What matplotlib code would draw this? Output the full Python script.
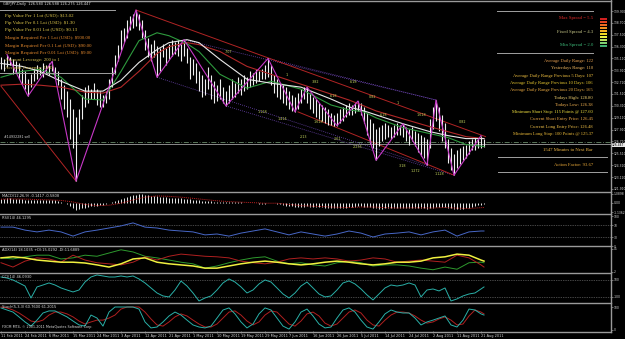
"""GBPJPY daily chart with MT4 style indicator panels."""

import matplotlib
matplotlib.use("Agg")
import matplotlib.pyplot as plt  # noqa: E402
from matplotlib.patches import Rectangle  # noqa: E402

W, H = 625, 339
BG = "#000000"
FRAME = "#9a9a9a"
AXTXT = "#d8d8d8"

# ---- price bars (one per daily bar, Sunday bars included) ----
highs = [135.2, 135.0, 135.5, 135.2, 135.0, 134.8, 134.6, 134.0, 133.8, 133.0,
         133.5, 134.0, 134.4, 134.2, 134.6, 134.4, 134.6, 134.8, 134.2, 133.8,
         133.0, 132.4, 131.8, 131.0, 130.0, 129.2, 130.0, 131.4, 132.2, 132.4,
         132.0, 132.6, 132.0, 131.8, 131.4, 131.8, 133.0, 134.2, 135.5, 136.5,
         138.0, 138.2, 139.0, 139.4, 139.6, 140.0, 139.6, 139.0, 138.0, 137.2,
         136.6, 137.0, 136.4, 136.2, 136.6, 136.2, 136.6, 137.0, 136.8, 137.0,
         136.6, 137.0, 136.2, 135.2, 135.0, 134.6, 133.8, 133.4, 133.0, 134.2,
         133.4, 132.8, 132.4, 133.0, 132.2, 131.8, 132.4, 133.0, 132.6, 133.2,
         133.0, 133.4, 133.2, 133.8, 133.6, 134.0, 133.8, 134.0, 134.4, 135.1,
         134.4, 133.4, 133.0, 132.6, 132.4, 132.2, 131.8, 131.4, 131.2, 131.6,
         132.0, 132.2, 132.2, 131.6, 131.2, 131.0, 130.6, 130.4, 130.2, 130.0,
         129.6, 129.4, 129.6, 130.0, 130.2, 130.4, 130.6, 130.4, 130.6, 130.8,
         130.6, 130.2, 129.6, 129.0, 128.6, 128.0, 128.2, 128.4, 128.6, 128.4,
         128.2, 128.4, 128.6, 128.4, 128.5, 128.2, 128.0, 128.2, 127.8, 127.6,
         127.4, 127.2, 127.0, 129.0, 130.2, 130.9, 130.2, 129.4, 128.6, 127.0,
         126.0, 125.4, 125.8, 126.0, 126.2, 126.4, 126.8, 127.0, 127.2, 127.0,
         127.3, 127.0]
lows = [134.0, 133.8, 134.2, 134.4, 133.5, 133.6, 133.0, 132.5, 132.0, 131.3,
        132.2, 132.8, 133.0, 133.4, 133.2, 133.6, 133.4, 133.8, 133.0, 132.4,
        131.0, 130.0, 129.2, 127.0, 126.0, 122.7, 127.5, 129.0, 130.2, 130.6,
        131.0, 131.0, 130.4, 130.2, 130.2, 130.6, 131.0, 132.2, 133.5, 134.8,
        136.0, 136.8, 137.2, 138.0, 138.2, 138.4, 138.0, 137.2, 136.0, 135.2,
        134.8, 135.2, 133.2, 133.8, 135.2, 134.4, 135.0, 135.4, 135.6, 135.4,
        134.8, 135.4, 134.6, 133.0, 133.4, 132.6, 131.8, 131.2, 131.4, 132.0,
        131.0, 130.6, 130.8, 131.0, 130.6, 130.3, 130.6, 131.0, 131.2, 131.6,
        131.4, 131.8, 132.0, 132.2, 132.4, 132.6, 132.8, 133.0, 133.0, 133.2,
        132.4, 131.6, 131.2, 131.0, 130.6, 130.4, 130.0, 129.8, 129.7, 130.0,
        130.6, 131.0, 130.6, 130.0, 129.6, 129.2, 129.0, 128.8, 128.6, 128.4,
        128.4, 128.3, 128.3, 128.6, 128.8, 129.2, 129.4, 129.4, 129.6, 129.8,
        129.4, 128.6, 127.4, 126.5, 126.0, 124.8, 126.2, 126.8, 127.0, 127.2,
        127.0, 127.2, 127.4, 127.4, 127.2, 126.8, 126.4, 126.8, 126.2, 125.6,
        125.2, 125.0, 124.3, 126.0, 128.0, 128.8, 127.8, 126.8, 126.0, 124.5,
        123.8, 123.3, 124.0, 124.4, 124.8, 125.0, 125.4, 125.8, 125.8, 126.0,
        126.0, 126.1]

# moving averages, read every few bars
ma_x = [0, 7, 13, 20, 28, 34, 40, 46, 52, 56, 62, 66, 73, 82, 90, 100, 110,
        116, 121, 125, 134, 143, 149, 155, 161]
ma_white = [134.6, 134.3, 133.8, 132.8, 131.8, 131.8, 132.9, 134.7, 136.0, 136.7,
            137.0, 136.7, 135.0, 133.0, 132.6, 132.2, 131.0, 130.2, 129.8, 129.4,
            128.5, 127.7, 127.3, 127.0, 127.0]
ma_green = [133.2, 133.8, 134.0, 133.2, 131.0, 130.9, 133.8, 136.9, 137.7, 137.4,
            136.6, 135.8, 133.5, 132.1, 132.8, 132.0, 130.4, 129.9, 129.7, 129.1,
            128.1, 127.5, 127.1, 126.4, 126.2]
ma_red = [132.4, 132.5, 132.4, 132.2, 131.7, 131.6, 132.2, 133.8, 135.6, 136.3,
          136.7, 136.5, 135.8, 134.3, 133.5, 132.5, 131.5, 130.9, 130.3, 129.8,
          129.0, 128.2, 127.7, 127.2, 127.0]

# zigzag swing points
zz_x = [2, 9, 17, 25, 45, 52, 61, 75, 89, 98, 102, 112, 119, 125, 134, 142, 145, 151, 160]
zz_y = [135.5, 131.3, 134.8, 122.7, 140.0, 133.2, 137.0, 130.3, 135.1, 129.7,
        132.2, 128.3, 130.8, 124.8, 128.5, 124.3, 130.9, 123.3, 127.3]

# drawn trend lines (bar index, price)
red_lines_x = [[45, 161.5], [0, 25], [99, 151]]
red_lines_y = [[140.0, 127.2], [132.3, 122.7], [129.7, 123.3]]
dot_lines_x = [[61, 145], [89, 145], [75, 151], [52, 142]]
dot_lines_y = [[137.0, 130.9], [135.1, 130.9], [130.3, 123.3], [133.2, 124.3]]

fib_x = [75.7, 95.3, 104.7, 110.7, 117.3, 123.7, 132.3, 127.3, 140.3, 87.0,
         93.7, 105.7, 100.7, 112.3, 118.7, 134.0, 138.0, 146.3, 153.7]
fib_y = [135.75, 133.43, 132.72, 131.31, 132.72, 131.21, 130.60, 129.39, 129.39,
         129.69, 128.98, 128.68, 127.16, 126.96, 126.15, 124.23, 123.73, 123.42, 128.68]
fib_txt = [".707", "1", ".382", ".618", ".618", "0.82", "1", ".618", "1.618", "1.128",
           "1.414", "1.618", "2.13", "2.61", "2.236", "3.18", "1.272", "1.128", "0.82"]

bid = 126.447
order_price = 126.70
price_ticks = [139.900, 138.700, 137.500, 136.300, 135.110, 133.910, 132.710, 131.510,
               130.310, 129.110, 127.910, 126.710, 125.510, 124.310, 123.110, 121.910]

date_pos = [0, 8, 16, 24, 32, 40, 48, 56, 64, 72, 80, 88, 96, 104, 112, 120, 128,
            136, 144, 152, 160]
date_labels = ["11 Feb 2011", "24 Feb 2011", "6 Mar 2011", "15 Mar 2011", "24 Mar 2011",
               "3 Apr 2011", "12 Apr 2011", "21 Apr 2011", "1 May 2011", "10 May 2011",
               "19 May 2011", "29 May 2011", "7 Jun 2011", "16 Jun 2011", "26 Jun 2011",
               "5 Jul 2011", "14 Jul 2011", "24 Jul 2011", "2 Aug 2011", "11 Aug 2011",
               "21 Aug 2011"]

# ---- MACD ----
macd_hist = [0.50, 0.52, 0.55, 0.55, 0.52, 0.50, 0.48, 0.45, 0.40, 0.35,
             0.33, 0.33, 0.35, 0.35, 0.36, 0.36, 0.35, 0.34, 0.30, 0.22,
             0.10, -0.05, -0.20, -0.40, -0.60, -0.85, -0.80, -0.70, -0.60, -0.52,
             -0.45, -0.40, -0.35, -0.30, -0.25, -0.18, -0.08, 0.05, 0.20, 0.35,
             0.50, 0.62, 0.75, 0.85, 0.95, 1.02, 1.05, 1.05, 1.00, 0.95,
             0.90, 0.85, 0.80, 0.75, 0.72, 0.68, 0.65, 0.62, 0.60, 0.58,
             0.55, 0.52, 0.48, 0.44, 0.40, 0.36, 0.32, 0.28, 0.24, 0.20,
             0.18, 0.15, 0.12, 0.10, 0.08, 0.06, 0.05, 0.04, 0.05, 0.06,
             0.05, 0.02, 0.0, -0.02, -0.05, -0.08, -0.10, -0.12, -0.10, -0.05,
             0.00, -0.05, -0.12, -0.20, -0.28, -0.34, -0.40, -0.45, -0.48, -0.50,
             -0.48, -0.46, -0.45, -0.46, -0.48, -0.50, -0.52, -0.55, -0.58, -0.60,
             -0.62, -0.64, -0.65, -0.64, -0.62, -0.58, -0.55, -0.52, -0.48, -0.45,
             -0.44, -0.46, -0.50, -0.56, -0.62, -0.70, -0.72, -0.72, -0.70, -0.68,
             -0.66, -0.64, -0.62, -0.60, -0.58, -0.58, -0.60, -0.60, -0.62, -0.65,
             -0.68, -0.70, -0.74, -0.68, -0.58, -0.50, -0.48, -0.50, -0.55, -0.62,
             -0.70, -0.78, -0.80, -0.78, -0.74, -0.68, -0.60, -0.50, -0.40, -0.30,
             -0.22, -0.14]

# indicator lines read every 4 bars
ind_x = list(range(0, 161, 4)) + [161]
macd_signal = [0.45, 0.48, 0.46, 0.40, 0.37, 0.30, 0.10, -0.20, -0.35, -0.30,
               -0.05, 0.35, 0.70, 0.85, 0.80, 0.70, 0.55, 0.40, 0.25, 0.15,
               0.08, 0.02, -0.05, -0.05, -0.20, -0.35, -0.42, -0.48, -0.55, -0.58,
               -0.52, -0.52, -0.60, -0.64, -0.62, -0.62, -0.64, -0.58, -0.66, -0.70,
               -0.60, -0.58]
rsi = [63, 63, 53, 47, 53, 47, 33, 47, 53, 60, 67, 77, 63, 60, 53, 50, 47, 37, 40, 33,
       43, 50, 57, 47, 37, 47, 40, 33, 40, 50, 43, 30, 40, 43, 47, 37, 47, 53, 33, 47,
       50, 50]
adx = [28, 30, 28, 24, 22, 20, 20, 18.5, 15, 11, 17, 26, 28, 20, 17, 15, 13, 9, 9, 13,
       17, 20, 22, 20, 17, 15, 17, 20, 22, 20, 17, 15, 17, 20, 20, 22, 28, 30, 35, 33,
       24, 22]
plus_di = [28, 26, 30, 33, 33, 26, 28, 33, 31, 37, 43, 39, 31, 28, 24, 20, 17, 9, 13, 19,
           24, 28, 30, 22, 17, 19, 15, 13, 19, 22, 19, 13, 15, 15, 13, 9, 6, 11, 7, 19,
           20, 19]
minus_di = [19, 11, 22, 28, 26, 20, 33, 24, 19, 17, 15, 20, 30, 24, 31, 35, 33, 31, 30, 28,
            22, 19, 17, 20, 26, 28, 26, 28, 26, 22, 24, 28, 26, 20, 22, 24, 22, 20, 33, 28,
            15, 11]

# oscillators read every 2 bars
osc_x = list(range(0, 161, 2)) + [161]
cci = [135, 123, 100, 65, 29, -112, 18, 41, 65, 41, 6, -18, -41, -18, 76, 135, 159, 147,
       135, 135, 147, 135, 147, 112, 65, 6, -53, -88, -100, -18, 88, 29, -53, -147, -112, -88,
       -18, 65, 112, 76, 18, -53, -18, 53, 100, 76, 6, -65, -112, -53, 29, 76, 6, -65,
       -100, -88, -18, 65, 88, 53, -6, -76, -135, -65, 6, 41, 29,
       41, 65, 41, -100, -18, -6, -29, 6, -147, -123, -88, -65, -53, -6, 18]
stoch_k = [96, 87, 78, 57, 35, 17, 43, 74, 83, 83, 70, 57, 39, 22, 17, 65, 52, 17, 78, 100,
           100, 100, 100, 91, 35, 9, 13, 35, 61, 78, 65, 43, 22, 13, 9, 17,
           52, 87, 96, 70, 35, 9, 26, 70, 96, 87, 52, 17, 4, 35, 78, 91, 61, 26, 9, 13,
           52, 87, 96, 78, 43, 13, 4, 35, 70, 87, 78,
           74, 74, 52, 22, 35, 43, 52, 61, 22, 13, 43, 91, 87, 70, 65]
stoch_d = [100, 96, 87, 74, 57, 39, 35, 43, 65, 78, 78, 70, 57, 39, 26, 35, 43, 43, 52, 65,
           91, 100, 100, 100, 78, 48, 22, 17, 35, 57, 70, 61, 43, 26, 13, 13,
           26, 52, 78, 83, 65, 39, 22, 35, 65, 83, 78, 52, 26, 17, 39, 70, 78, 61, 30, 17,
           26, 52, 78, 87, 74, 43, 22, 17, 43, 65, 78,
           78, 74, 61, 43, 30, 35, 48, 57, 43, 22, 26, 61, 87, 78, 70]

left_info = [
    ("Pip Value Per 1 Lot (USD): $13.02", "#e0c84c"),
    ("Pip Value Per 0.1 Lot (USD): $1.30", "#e0c84c"),
    ("Pip Value Per 0.01 Lot (USD): $0.13", "#e0c84c"),
    ("Margin Required Per 1 Lot (USD): $900.00", "#e68a2e"),
    ("Margin Required Per 0.1 Lot (USD): $90.00", "#e68a2e"),
    ("Margin Required Per 0.01 Lot (USD): $9.00", "#e68a2e"),
    ("Account Leverage: 200 to 1", "#d8c050"),
    ("Account Currency: USD", "#d8c050"),
]
spread_info = [("Max Spread = 5.5", "#e02828"), ("Fixed Spread = 4.3", "#c8c888"),
               ("Min Spread = 2.0", "#3cb878")]
spread_bar_colors = ["#d02020", "#e04420", "#f06a20", "#f09020", "#f0b020",
                     "#f0d820", "#e8f040", "#b8e060", "#80d070", "#40b070"]
range_info = [
    ("Average Daily Range: 122", "#e8a050"),
    ("Yesterdays Range: 110", "#f0b860"),
    ("Average Daily Range Previous 5 Days: 107", "#f0c040"),
    ("Average Daily Range Previous 10 Days: 106", "#e8c830"),
    ("Average Daily Range Previous 20 Days: 165", "#e8a840"),
    ("Todays High: 128.80", "#f0d070"),
    ("Todays Low: 126.38", "#f0b050"),
    ("Minimum Short Stop: 115 Points @ 127.60", "#f0e040"),
    ("Current Short Entry Price: 126.45", "#f0a848"),
    ("Current Long Entry Price: 126.48", "#f0c048"),
    ("Minimum Long Stop: 100 Points @ 125.37", "#e8b838"),
]

fig = plt.figure(figsize=(W / 100, H / 100), dpi=100, facecolor=BG)


def px_axes(y0, y1):
    """Axes covering chart pixels y0..y1, x 0..611, bar index on x."""
    ax = fig.add_axes([0, 1 - y1 / H, 611 / W, (y1 - y0) / H])
    ax.set_facecolor(BG)
    ax.set_xlim(-1 / 3, 610 / 3)
    for s in ax.spines.values():
        s.set_visible(False)
    ax.tick_params(axis="x", bottom=False, labelbottom=False)
    ax.yaxis.tick_right()
    ax.tick_params(axis="y", colors=FRAME, labelcolor=AXTXT, labelsize=2.2,
                   length=1.5, width=0.5, pad=0.4)
    return ax


def panel_label(ax, text):
    ax.text(0.004, 0.93, text, transform=ax.transAxes, fontsize=2.6,
            color=AXTXT, va="top", ha="left")


# ---- main price panel ----
ax = px_axes(3, 191)
ax.set_ylim(121.70, 140.71)
ax.set_yticks(price_ticks)
ax.set_yticklabels([f"{v:.3f}" for v in price_ticks])
bar_x = list(range(len(highs)))
for xs, ys in zip(dot_lines_x, dot_lines_y):
    ax.plot(xs, ys, color="#7048b8", lw=0.6, ls=(0, (1, 1.5)))
for xs, ys in zip(red_lines_x, red_lines_y):
    ax.plot(xs, ys, color="#b02424", lw=0.7)
ax.axhline(order_price, color="#6a8a6a", lw=0.6, ls=(0, (6, 2, 1, 2)))
ax.axhline(bid, color="#a0a0a0", lw=0.6)
ax.vlines(bar_x, lows, highs, colors="#f0f0f0", lw=0.8)
ax.plot(ma_x, ma_red, color="#b02828", lw=0.8)
ax.plot(ma_x, ma_green, color="#2e9a3e", lw=0.8)
ax.plot(ma_x, ma_white, color="#e8e8e8", lw=0.8)
ax.plot(zz_x, zz_y, color="#c838c8", lw=0.8)
for fx, fy, ft in zip(fib_x, fib_y, fib_txt):
    ax.text(fx, fy, ft, fontsize=2.4, color="#c8d860", ha="center", va="center")
ax.text(1, order_price + 0.25, "#14932281 sell", fontsize=2.3, color=AXTXT, va="bottom")

# ---- MACD ----
ax_m = px_axes(192, 214)
ax_m.set_ylim(-1.383, 1.337)
ax_m.vlines(bar_x, 0, macd_hist, colors="#e8e8e8", lw=0.7)
ax_m.plot(ind_x, macd_signal, color="#c02020", lw=0.7, ls=(0, (1, 1)))
ax_m.set_yticks([1.0898, 0.0, -1.1362])
ax_m.set_yticklabels(["1.0898", "0.00", "-1.1362"])
panel_label(ax_m, "MACD(12,26,9) -0.1417 -0.5808")

# ---- RSI ----
ax_r = px_axes(214, 246)
ax_r.set_ylim(0, 106.7)
for lv in (70, 30):
    ax_r.axhline(lv, color="#8a8a8a", lw=0.5, ls=(0, (1, 1.5)))
ax_r.plot(ind_x, rsi, color="#4868c8", lw=0.7)
ax_r.set_yticks([100, 70, 30, 0])
ax_r.set_yticklabels(["100", "70", "30", "0"])
panel_label(ax_r, "RSI(14) 46.1295")

# ---- ADX ----
ax_a = px_axes(246, 273)
ax_a.set_ylim(0, 50)
ax_a.plot(ind_x, plus_di, color="#2e9a2e", lw=0.7)
ax_a.plot(ind_x, minus_di, color="#b02020", lw=0.7)
ax_a.plot(ind_x, adx, color="#f0f040", lw=1.1)
ax_a.set_yticks([45, 2])
ax_a.set_yticklabels(["45", "2"])
panel_label(ax_a, "ADX(14) 18.1035 +DI:15.0292 -DI:11.6889")

# ---- CCI ----
ax_c = px_axes(273, 303)
ax_c.set_ylim(-171, 182)
for lv in (100, -100):
    ax_c.axhline(lv, color="#8a8a8a", lw=0.5, ls=(0, (1, 1.5)))
ax_c.plot(osc_x, cci, color="#2ab0a8", lw=0.7)
ax_c.set_yticks([100, -100])
ax_c.set_yticklabels(["100", "-100"])
panel_label(ax_c, "CCI(14) 46.0930")

# ---- Stochastic ----
ax_s = px_axes(303, 331)
ax_s.set_ylim(-4.35, 117.4)
ax_s.plot(osc_x, stoch_d, color="#b02020", lw=0.7)
ax_s.plot(osc_x, stoch_k, color="#2ab0a8", lw=0.7)
ax_s.set_yticks([100, 0])
ax_s.set_yticklabels(["100", "0"])
panel_label(ax_s, "Stoch(5,3,3) 60.7600 61.2015")
ax_s.text(0.004, 0.08, "FXCM MT4, \u00a9 2001-2011 MetaQuotes Software Corp.",
          transform=ax_s.transAxes, fontsize=2.4, color=AXTXT, va="bottom")
ax_s.set_xticks(date_pos)
ax_s.set_xticklabels(date_labels)
ax_s.tick_params(axis="x", bottom=True, labelbottom=True, length=1.5, width=0.5,
                 colors=FRAME, labelcolor=AXTXT, labelsize=2.5, pad=0.6)
for lab in ax_s.get_xticklabels():
    lab.set_ha("left")

# ---- overlay in pixel coordinates: frame, info texts ----
ov = fig.add_axes([0, 0, 1, 1], facecolor="none", zorder=10)
ov.set_xlim(0, W)
ov.set_ylim(H, 0)
ov.axis("off")
for y in (1, 191.5, 214, 246, 273, 303, 331.5):
    ov.plot([0, 611], [y, y], color=FRAME, lw=1.0)
ov.plot([611, 611], [0, 332], color=FRAME, lw=1.0)

ov.text(3, 4.5, "GBPJPY,Daily  126.580 126.588 126.275 126.447", fontsize=2.6,
        color=AXTXT, va="center")
for y in (10, 73):
    ov.plot([0, 115], [y, y], color="#a0a0a0", lw=0.7)
for k, (txt, col) in enumerate(left_info):
    ov.text(5, 15.5 + k * 7.5, txt, fontsize=3.5, color=col, va="center",
            family="Liberation Serif")

for y in (11, 53):
    ov.plot([497, 593], [y, y], color="#a0a0a0", lw=0.7)
for y in (157, 172):
    ov.plot([498, 607], [y, y], color="#a0a0a0", lw=0.7)
for k, (txt, col) in enumerate(spread_info):
    ov.text(593, 18 + k * 13.5, txt, fontsize=3.4, color=col, va="center",
            ha="right", family="Liberation Serif")
for k, col in enumerate(spread_bar_colors):
    ov.add_patch(Rectangle((600, 18 + k * 3), 7, 2, color=col, lw=0))
for k, (txt, col) in enumerate(range_info):
    ov.text(593, 61 + k * 7.3, txt, fontsize=3.3, color=col, va="center",
            ha="right", family="Liberation Serif")
ov.text(593, 150, "1547 Minutes to Next Bar", fontsize=3.4, color="#f0b848",
        va="center", ha="right", family="Liberation Serif")
ov.text(593, 164.5, "Action Factor: 93.67", fontsize=3.4, color="#e8a838",
        va="center", ha="right", family="Liberation Serif")
ov.text(612, 145, "126.447", fontsize=2.2, color="#000000", va="center",
        bbox=dict(boxstyle="square,pad=0.15", fc="#e8e8e8", ec="none"))

fig.savefig("out.png", dpi=100, facecolor=BG)
plt.close(fig)
